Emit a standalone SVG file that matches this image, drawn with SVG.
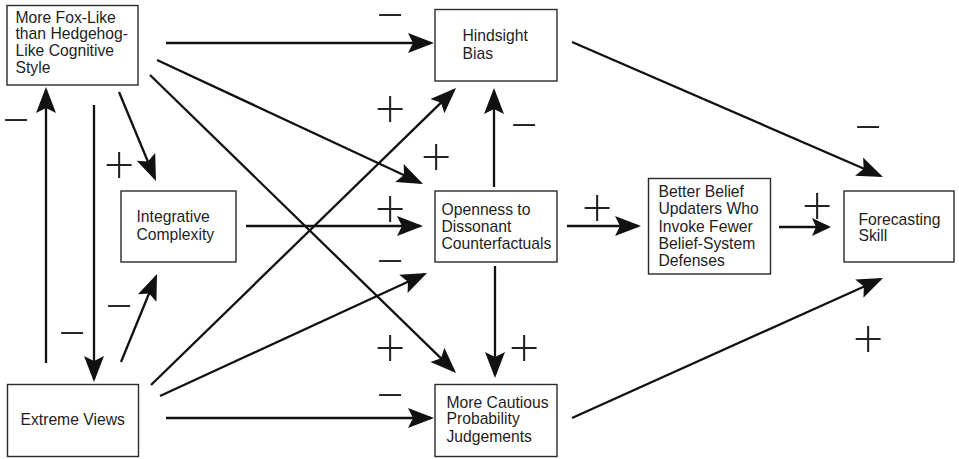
<svg xmlns="http://www.w3.org/2000/svg" width="959" height="459" viewBox="0 0 959 459">
<defs>
<style>
.box{fill:#fff;stroke:#2a2a2a;stroke-width:1.4}
.lbl{font-family:"Liberation Sans",Arial,sans-serif;font-size:15.7px;fill:#1e1e1e}
.con line{stroke:#111;stroke-width:2.3;fill:none}
.a{marker-end:url(#ah)}
.as{marker-end:url(#ahs)}
.sg{font-family:Lato,"Liberation Sans",sans-serif;font-weight:300;font-size:53px;fill:#222;text-anchor:middle}
</style>
<marker id="ah" markerUnits="userSpaceOnUse" orient="auto" overflow="visible" refX="0" refY="0" markerWidth="30" markerHeight="30">
<path d="M3,0 L-23,-10 L-18,0 L-23,10 Z" fill="#111"/>
</marker>
<marker id="ahs" markerUnits="userSpaceOnUse" orient="auto" overflow="visible" refX="0" refY="0" markerWidth="30" markerHeight="30">
<path d="M3,0 L-16,-9 L-12,0 L-16,9 Z" fill="#111"/>
</marker>
</defs>
<rect width="959" height="459" fill="#fff"/>
<g id="fox"><rect class="box" x="7" y="5.5" width="131" height="79.5"/>
<text class="lbl" x="15.5"><tspan x="15.5" y="22.7">More Fox-Like</tspan><tspan x="15.5" y="39.3">than Hedgehog-</tspan><tspan x="15.5" y="56">Like Cognitive</tspan><tspan x="15.5" y="72.7">Style</tspan></text></g>
<g id="hindsight"><rect class="box" x="435" y="9.5" width="122" height="71.5"/>
<text class="lbl"><tspan x="462.5" y="40.7">Hindsight</tspan><tspan x="462.5" y="59">Bias</tspan></text></g>
<g id="integrative"><rect class="box" x="121" y="191" width="115" height="71"/>
<text class="lbl"><tspan x="136.5" y="222.3">Integrative</tspan><tspan x="136.5" y="240">Complexity</tspan></text></g>
<g id="openness"><rect class="box" x="435" y="191" width="122" height="71"/>
<text class="lbl"><tspan x="441.5" y="215">Openness to</tspan><tspan x="441.5" y="232">Dissonant</tspan><tspan x="441.5" y="249.3">Counterfactuals</tspan></text></g>
<g id="updaters"><rect class="box" x="648.5" y="178.5" width="122" height="95.5"/>
<text class="lbl"><tspan x="658.5" y="197">Better Belief</tspan><tspan x="658.5" y="214">Updaters Who</tspan><tspan x="658.5" y="231.7">Invoke Fewer</tspan><tspan x="658.5" y="249">Belief-System</tspan><tspan x="658.5" y="265.9">Defenses</tspan></text></g>
<g id="forecasting"><rect class="box" x="844" y="191" width="110" height="71"/>
<text class="lbl"><tspan x="858.5" y="224.5">Forecasting</tspan><tspan x="858.5" y="241">Skill</tspan></text></g>
<g id="extreme"><rect class="box" x="7.5" y="384.5" width="131" height="72"/>
<text class="lbl" x="20.5" y="425">Extreme Views</text></g>
<g id="cautious"><rect class="box" x="435" y="384.5" width="122" height="72"/>
<text class="lbl"><tspan x="446.5" y="407.6">More Cautious</tspan><tspan x="446.5" y="424.3">Probability</tspan><tspan x="446.5" y="441.7">Judgements</tspan></text></g>
<g id="connectors" class="con">
<line class="a" x1="166" y1="43" x2="431" y2="43"/>
<line class="a" x1="157" y1="60" x2="420.3" y2="182.7"/>
<line class="a" x1="150" y1="75" x2="453.9" y2="370.9"/>
<line class="a" x1="119" y1="92" x2="154.8" y2="178.2"/>
<line class="a" x1="46" y1="363" x2="46" y2="90"/>
<line class="a" x1="94" y1="105" x2="94" y2="379"/>
<line class="a" x1="121" y1="362" x2="155.9" y2="276.8"/>
<line class="a" x1="151" y1="385" x2="453.9" y2="90.1"/>
<line class="a" x1="160" y1="396" x2="424.3" y2="274.3"/>
<line class="a" x1="166" y1="418" x2="431" y2="418"/>
<line class="a" x1="246" y1="226" x2="420" y2="226"/>
<line class="a" x1="494" y1="187" x2="494" y2="91"/>
<line class="a" x1="495" y1="266" x2="495" y2="375"/>
<line class="a" x1="567" y1="226" x2="638" y2="226"/>
<line class="as" x1="779" y1="227" x2="828" y2="227"/>
<line class="a" x1="572" y1="42" x2="880.2" y2="175.8"/>
<line class="a" x1="572" y1="418" x2="880.3" y2="279.2"/>
</g>
<g id="signs">
<text class="sg" x="390" y="32.6">−</text>
<text class="sg" x="390" y="126.6">+</text>
<text class="sg" x="436" y="174.6">+</text>
<text class="sg" x="524" y="142.6">−</text>
<text class="sg" x="390" y="226.6">+</text>
<text class="sg" x="390" y="278.6">−</text>
<text class="sg" x="390" y="365.6">+</text>
<text class="sg" x="390" y="412.6">−</text>
<text class="sg" x="524" y="365.6">+</text>
<text class="sg" x="597" y="225.6">+</text>
<text class="sg" x="817" y="223.6">+</text>
<text class="sg" x="868" y="144.6">−</text>
<text class="sg" x="868" y="356.6">+</text>
<text class="sg" x="16" y="137.6">−</text>
<text class="sg" x="119" y="182.6">+</text>
<text class="sg" x="72" y="350.6">−</text>
<text class="sg" x="119" y="323.6">−</text>
</g>
</svg>
